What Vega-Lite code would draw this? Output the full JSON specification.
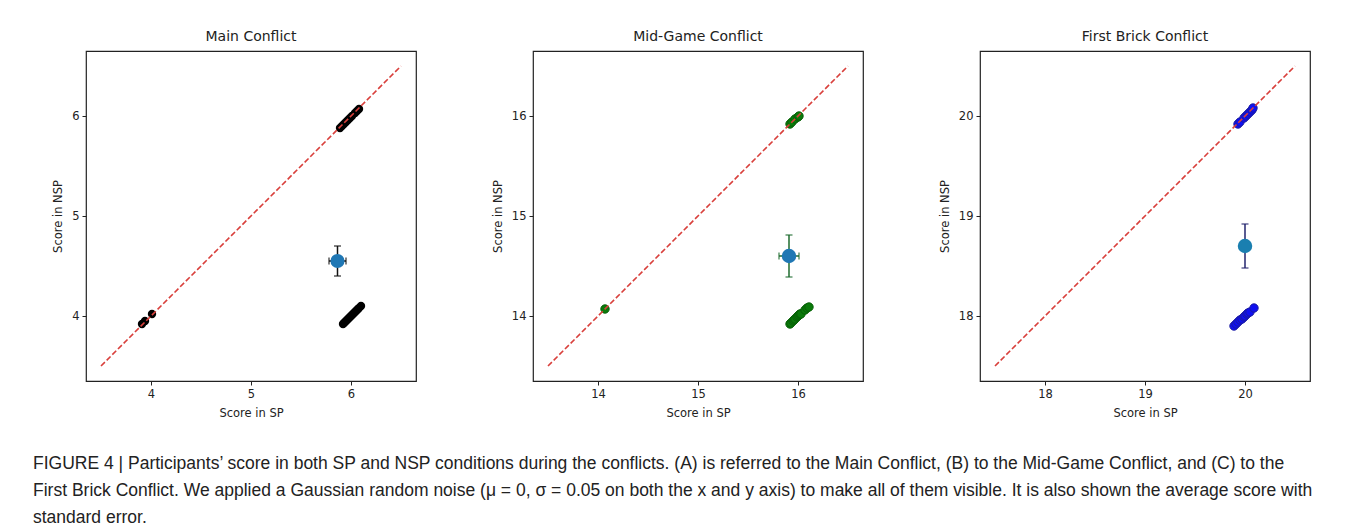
{
  "$schema": "https://vega.github.io/schema/vega-lite/v6.json",
  "autosize": {"type": "pad"},
  "padding": {"left": 33, "top": 29, "right": 5, "bottom": 5},
  "background": "white",
  "datasets": {
    "pts": [
      {"panel": "A", "sp": 5.89, "nsp": 5.88}, {"panel": "A", "sp": 5.91, "nsp": 5.90}, {"panel": "A", "sp": 5.93, "nsp": 5.92},
      {"panel": "A", "sp": 5.95, "nsp": 5.94}, {"panel": "A", "sp": 5.97, "nsp": 5.96}, {"panel": "A", "sp": 5.99, "nsp": 5.98},
      {"panel": "A", "sp": 6.01, "nsp": 6.00}, {"panel": "A", "sp": 6.04, "nsp": 6.03}, {"panel": "A", "sp": 6.06, "nsp": 6.05},
      {"panel": "A", "sp": 6.08, "nsp": 6.07},
      {"panel": "A", "sp": 3.91, "nsp": 3.92}, {"panel": "A", "sp": 3.94, "nsp": 3.95}, {"panel": "A", "sp": 4.01, "nsp": 4.02},
      {"panel": "A", "sp": 5.92, "nsp": 3.92}, {"panel": "A", "sp": 5.93, "nsp": 3.93}, {"panel": "A", "sp": 5.94, "nsp": 3.94},
      {"panel": "A", "sp": 5.95, "nsp": 3.95}, {"panel": "A", "sp": 5.96, "nsp": 3.96}, {"panel": "A", "sp": 5.97, "nsp": 3.97},
      {"panel": "A", "sp": 5.98, "nsp": 3.98}, {"panel": "A", "sp": 5.99, "nsp": 3.99}, {"panel": "A", "sp": 6.00, "nsp": 4.00},
      {"panel": "A", "sp": 6.01, "nsp": 4.01}, {"panel": "A", "sp": 6.02, "nsp": 4.02}, {"panel": "A", "sp": 6.03, "nsp": 4.03},
      {"panel": "A", "sp": 6.04, "nsp": 4.04}, {"panel": "A", "sp": 6.05, "nsp": 4.05}, {"panel": "A", "sp": 6.06, "nsp": 4.06},
      {"panel": "A", "sp": 6.07, "nsp": 4.07}, {"panel": "A", "sp": 6.08, "nsp": 4.08}, {"panel": "A", "sp": 6.10, "nsp": 4.10},
      {"panel": "B", "sp": 14.07, "nsp": 14.07},
      {"panel": "B", "sp": 15.92, "nsp": 15.92}, {"panel": "B", "sp": 15.94, "nsp": 15.94}, {"panel": "B", "sp": 15.97, "nsp": 15.97},
      {"panel": "B", "sp": 16.00, "nsp": 15.99}, {"panel": "B", "sp": 16.01, "nsp": 16.00},
      {"panel": "B", "sp": 15.92, "nsp": 13.92}, {"panel": "B", "sp": 15.93, "nsp": 13.93}, {"panel": "B", "sp": 15.95, "nsp": 13.95},
      {"panel": "B", "sp": 15.96, "nsp": 13.96}, {"panel": "B", "sp": 15.97, "nsp": 13.97}, {"panel": "B", "sp": 15.99, "nsp": 13.99},
      {"panel": "B", "sp": 16.00, "nsp": 14.00}, {"panel": "B", "sp": 16.01, "nsp": 14.01}, {"panel": "B", "sp": 16.02, "nsp": 14.02},
      {"panel": "B", "sp": 16.03, "nsp": 14.02}, {"panel": "B", "sp": 16.07, "nsp": 14.06}, {"panel": "B", "sp": 16.09, "nsp": 14.08},
      {"panel": "B", "sp": 16.11, "nsp": 14.09},
      {"panel": "C", "sp": 19.93, "nsp": 19.92}, {"panel": "C", "sp": 19.95, "nsp": 19.94}, {"panel": "C", "sp": 19.99, "nsp": 19.98},
      {"panel": "C", "sp": 20.01, "nsp": 20.00}, {"panel": "C", "sp": 20.03, "nsp": 20.02}, {"panel": "C", "sp": 20.05, "nsp": 20.04},
      {"panel": "C", "sp": 20.07, "nsp": 20.06}, {"panel": "C", "sp": 20.08, "nsp": 20.08},
      {"panel": "C", "sp": 19.89, "nsp": 17.90}, {"panel": "C", "sp": 19.91, "nsp": 17.92}, {"panel": "C", "sp": 19.93, "nsp": 17.94},
      {"panel": "C", "sp": 19.95, "nsp": 17.96}, {"panel": "C", "sp": 19.97, "nsp": 17.97}, {"panel": "C", "sp": 19.99, "nsp": 17.99},
      {"panel": "C", "sp": 20.00, "nsp": 18.00}, {"panel": "C", "sp": 20.02, "nsp": 18.02}, {"panel": "C", "sp": 20.03, "nsp": 18.03},
      {"panel": "C", "sp": 20.05, "nsp": 18.04}, {"panel": "C", "sp": 20.09, "nsp": 18.08}
    ],
    "diag": [
      {"panel": "A", "v": 3.5}, {"panel": "A", "v": 6.5},
      {"panel": "B", "v": 13.5}, {"panel": "B", "v": 16.5},
      {"panel": "C", "v": 17.5}, {"panel": "C", "v": 20.5}
    ],
    "means": [
      {"panel": "A", "msp": 5.865, "mnsp": 4.55, "slo": 5.78, "shi": 5.95, "nlo": 4.40, "nhi": 4.70},
      {"panel": "B", "msp": 15.91, "mnsp": 14.60, "slo": 15.81, "shi": 16.01, "nlo": 14.39, "nhi": 14.81},
      {"panel": "C", "msp": 20.0, "mnsp": 18.70, "slo": null, "shi": null, "nlo": 18.48, "nhi": 18.92}
    ]
  },
  "title": {
    "text": [
      "FIGURE 4 | Participants’ score in both SP and NSP conditions during the conflicts. (A) is referred to the Main Conflict, (B) to the Mid-Game Conflict, and (C) to the",
      "First Brick Conflict. We applied a Gaussian random noise (μ = 0, σ = 0.05 on both the x and y axis) to make all of them visible. It is also shown the average score with",
      "standard error."
    ],
    "orient": "bottom",
    "anchor": "start",
    "frame": "group",
    "dx": -53,
    "offset": 35,
    "font": "Liberation Sans",
    "fontSize": 17.5,
    "fontWeight": "normal",
    "color": "#222222",
    "lineHeight": 27,
    "baseline": "top"
  },
  "spacing": 117,
  "bounds": "flush",
  "hconcat": [
    {
      "width": 330, "height": 330,
      "title": "Main Conflict",
      "layer": [
        {
          "data": {"name": "pts"},
          "transform": [{"filter": "datum.panel === 'A'"}],
          "mark": {"type": "point", "filled": true, "size": 70, "color": "#000000", "opacity": 1},
          "encoding": {
            "x": {"field": "sp", "type": "quantitative", "title": "Score in SP", "scale": {"domain": [3.35, 6.65], "nice": false, "zero": false}, "axis": {"values": [4, 5, 6], "format": "d"}},
            "y": {"field": "nsp", "type": "quantitative", "title": "Score in NSP", "scale": {"domain": [3.35, 6.65], "nice": false, "zero": false}, "axis": {"values": [4, 5, 6], "format": "d"}}
          }
        },
        {
          "data": {"name": "diag"},
          "transform": [{"filter": "datum.panel === 'A'"}],
          "mark": {"type": "line", "color": "#d9403c", "strokeWidth": 1.6, "strokeDash": [5.5, 2.5]},
          "encoding": {
            "x": {"field": "v", "type": "quantitative", "title": "Score in SP"},
            "y": {"field": "v", "type": "quantitative", "title": "Score in NSP"}
          }
        },
        {
          "data": {"name": "means"},
          "transform": [{"filter": "datum.panel === 'A'"}],
          "mark": {"type": "rule", "color": "#111111", "strokeWidth": 1.5},
          "encoding": {
            "x": {"field": "msp", "type": "quantitative", "title": "Score in SP"},
            "y": {"field": "nlo", "type": "quantitative", "title": "Score in NSP"},
            "y2": {"field": "nhi"}
          }
        },
        {
          "data": {"name": "means"},
          "transform": [{"filter": "datum.panel === 'A'"}],
          "mark": {"type": "rule", "color": "#111111", "strokeWidth": 1.5},
          "encoding": {
            "y": {"field": "mnsp", "type": "quantitative", "title": "Score in NSP"},
            "x": {"field": "slo", "type": "quantitative", "title": "Score in SP"},
            "x2": {"field": "shi"}
          }
        },
        {
          "data": {"name": "means"},
          "transform": [{"filter": "datum.panel === 'A'"}, {"fold": ["nlo", "nhi"], "as": ["k", "capy"]}],
          "mark": {"type": "tick", "orient": "horizontal", "color": "#111111", "size": 7, "thickness": 1.5},
          "encoding": {
            "x": {"field": "msp", "type": "quantitative", "title": "Score in SP"},
            "y": {"field": "capy", "type": "quantitative", "title": "Score in NSP"}
          }
        },
        {
          "data": {"name": "means"},
          "transform": [{"filter": "datum.panel === 'A'"}, {"fold": ["slo", "shi"], "as": ["k", "capx"]}],
          "mark": {"type": "tick", "orient": "vertical", "color": "#111111", "size": 7, "thickness": 1.5},
          "encoding": {
            "x": {"field": "capx", "type": "quantitative", "title": "Score in SP"},
            "y": {"field": "mnsp", "type": "quantitative", "title": "Score in NSP"}
          }
        },
        {
          "data": {"name": "means"},
          "transform": [{"filter": "datum.panel === 'A'"}],
          "mark": {"type": "point", "filled": true, "size": 200, "color": "#1f77b4", "opacity": 1},
          "encoding": {
            "x": {"field": "msp", "type": "quantitative", "title": "Score in SP"},
            "y": {"field": "mnsp", "type": "quantitative", "title": "Score in NSP"}
          }
        }
      ]
    },
    {
      "width": 330, "height": 330,
      "title": "Mid-Game Conflict",
      "layer": [
        {
          "data": {"name": "pts"},
          "transform": [{"filter": "datum.panel === 'B'"}],
          "mark": {"type": "point", "filled": true, "size": 70, "color": "#0a7a0a", "stroke": "#066006", "strokeWidth": 1, "opacity": 1},
          "encoding": {
            "x": {"field": "sp", "type": "quantitative", "title": "Score in SP", "scale": {"domain": [13.35, 16.65], "nice": false, "zero": false}, "axis": {"values": [14, 15, 16], "format": "d"}},
            "y": {"field": "nsp", "type": "quantitative", "title": "Score in NSP", "scale": {"domain": [13.35, 16.65], "nice": false, "zero": false}, "axis": {"values": [14, 15, 16], "format": "d"}}
          }
        },
        {
          "data": {"name": "diag"},
          "transform": [{"filter": "datum.panel === 'B'"}],
          "mark": {"type": "line", "color": "#d9403c", "strokeWidth": 1.6, "strokeDash": [5.5, 2.5]},
          "encoding": {
            "x": {"field": "v", "type": "quantitative", "title": "Score in SP"},
            "y": {"field": "v", "type": "quantitative", "title": "Score in NSP"}
          }
        },
        {
          "data": {"name": "means"},
          "transform": [{"filter": "datum.panel === 'B'"}],
          "mark": {"type": "rule", "color": "#1e6b2e", "strokeWidth": 1.5},
          "encoding": {
            "x": {"field": "msp", "type": "quantitative", "title": "Score in SP"},
            "y": {"field": "nlo", "type": "quantitative", "title": "Score in NSP"},
            "y2": {"field": "nhi"}
          }
        },
        {
          "data": {"name": "means"},
          "transform": [{"filter": "datum.panel === 'B'"}],
          "mark": {"type": "rule", "color": "#1e6b2e", "strokeWidth": 1.5},
          "encoding": {
            "y": {"field": "mnsp", "type": "quantitative", "title": "Score in NSP"},
            "x": {"field": "slo", "type": "quantitative", "title": "Score in SP"},
            "x2": {"field": "shi"}
          }
        },
        {
          "data": {"name": "means"},
          "transform": [{"filter": "datum.panel === 'B'"}, {"fold": ["nlo", "nhi"], "as": ["k", "capy"]}],
          "mark": {"type": "tick", "orient": "horizontal", "color": "#1e6b2e", "size": 7, "thickness": 1.5},
          "encoding": {
            "x": {"field": "msp", "type": "quantitative", "title": "Score in SP"},
            "y": {"field": "capy", "type": "quantitative", "title": "Score in NSP"}
          }
        },
        {
          "data": {"name": "means"},
          "transform": [{"filter": "datum.panel === 'B'"}, {"fold": ["slo", "shi"], "as": ["k", "capx"]}],
          "mark": {"type": "tick", "orient": "vertical", "color": "#1e6b2e", "size": 7, "thickness": 1.5},
          "encoding": {
            "x": {"field": "capx", "type": "quantitative", "title": "Score in SP"},
            "y": {"field": "mnsp", "type": "quantitative", "title": "Score in NSP"}
          }
        },
        {
          "data": {"name": "means"},
          "transform": [{"filter": "datum.panel === 'B'"}],
          "mark": {"type": "point", "filled": true, "size": 210, "color": "#1f77b4", "opacity": 1},
          "encoding": {
            "x": {"field": "msp", "type": "quantitative", "title": "Score in SP"},
            "y": {"field": "mnsp", "type": "quantitative", "title": "Score in NSP"}
          }
        }
      ]
    },
    {
      "width": 330, "height": 330,
      "title": "First Brick Conflict",
      "layer": [
        {
          "data": {"name": "pts"},
          "transform": [{"filter": "datum.panel === 'C'"}],
          "mark": {"type": "point", "filled": true, "size": 70, "color": "#1010f0", "stroke": "#1a1aa0", "strokeWidth": 1, "opacity": 1},
          "encoding": {
            "x": {"field": "sp", "type": "quantitative", "title": "Score in SP", "scale": {"domain": [17.35, 20.65], "nice": false, "zero": false}, "axis": {"values": [18, 19, 20], "format": "d"}},
            "y": {"field": "nsp", "type": "quantitative", "title": "Score in NSP", "scale": {"domain": [17.35, 20.65], "nice": false, "zero": false}, "axis": {"values": [18, 19, 20], "format": "d"}}
          }
        },
        {
          "data": {"name": "diag"},
          "transform": [{"filter": "datum.panel === 'C'"}],
          "mark": {"type": "line", "color": "#d9403c", "strokeWidth": 1.6, "strokeDash": [5.5, 2.5]},
          "encoding": {
            "x": {"field": "v", "type": "quantitative", "title": "Score in SP"},
            "y": {"field": "v", "type": "quantitative", "title": "Score in NSP"}
          }
        },
        {
          "data": {"name": "means"},
          "transform": [{"filter": "datum.panel === 'C'"}],
          "mark": {"type": "rule", "color": "#23246e", "strokeWidth": 1.5},
          "encoding": {
            "x": {"field": "msp", "type": "quantitative", "title": "Score in SP"},
            "y": {"field": "nlo", "type": "quantitative", "title": "Score in NSP"},
            "y2": {"field": "nhi"}
          }
        },
        {
          "data": {"name": "means"},
          "transform": [{"filter": "datum.panel === 'C'"}, {"fold": ["nlo", "nhi"], "as": ["k", "capy"]}],
          "mark": {"type": "tick", "orient": "horizontal", "color": "#23246e", "size": 7, "thickness": 1.5},
          "encoding": {
            "x": {"field": "msp", "type": "quantitative", "title": "Score in SP"},
            "y": {"field": "capy", "type": "quantitative", "title": "Score in NSP"}
          }
        },
        {
          "data": {"name": "means"},
          "transform": [{"filter": "datum.panel === 'C'"}],
          "mark": {"type": "point", "filled": true, "size": 210, "color": "#1a7fb0", "opacity": 1},
          "encoding": {
            "x": {"field": "msp", "type": "quantitative", "title": "Score in SP"},
            "y": {"field": "mnsp", "type": "quantitative", "title": "Score in NSP"}
          }
        }
      ]
    }
  ],
  "config": {
    "view": {"stroke": "#222222", "strokeWidth": 1.2},
    "axis": {
      "domain": false, "grid": false, "ticks": true, "tickSize": 4, "tickColor": "#222222", "tickWidth": 1,
      "labelFont": "DejaVu Sans", "labelFontSize": 11.5, "labelColor": "#222222", "labelPadding": 3,
      "titleFont": "DejaVu Sans", "titleFontSize": 11.5, "titleFontWeight": "normal", "titleColor": "#222222", "titlePadding": 8
    },
    "title": {"font": "DejaVu Sans", "fontSize": 14, "fontWeight": "normal", "color": "#222222", "offset": 7}
  }
}
